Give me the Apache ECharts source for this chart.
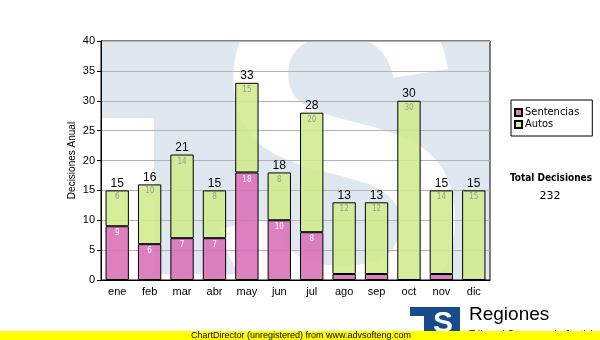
<!DOCTYPE html>
<html>
<head>
<meta charset="utf-8">
<script src="https://cdn.jsdelivr.net/npm/echarts@6/dist/echarts.min.js"></script>
<style>
  html, body { margin: 0; padding: 0; background: #fff; }
  #chart { width: 600px; height: 340px; }
</style>
</head>
<body>
<div id="chart"></div>
<script>
// Monthly decisions, split by type
const months = ['ene', 'feb', 'mar', 'abr', 'may', 'jun', 'jul', 'ago', 'sep', 'oct', 'nov', 'dic'];
const sentencias = [9, 6, 7, 7, 18, 10, 8, 1, 1, 0, 1, 0];
const autos = [6, 10, 14, 8, 15, 8, 20, 12, 12, 30, 14, 15];
const yMin = 0, yMax = 40, yStep = 5;

const totals = months.map((m, i) => sentencias[i] + autos[i]);
const grandTotal = totals.reduce((a, b) => a + b, 0);

const ARIAL = '"Liberation Sans", Arial, sans-serif';
const TAHOMA = '"DejaVu Sans Condensed", "DejaVu Sans", sans-serif';
const WATERMARK = '#dfe8f1';

const chart = echarts.init(document.getElementById('chart'), null, { renderer: 'canvas' });

chart.setOption({
  animation: false,
  backgroundColor: '#ffffff',
  grid: {
    left: 101, right: 110, top: 41, bottom: 60,
    show: true, borderColor: '#000', borderWidth: 1, backgroundColor: 'transparent'
  },
  legend: {
    data: ['Sentencias', 'Autos'],
    orient: 'vertical',
    left: 511, top: 100,
    padding: [7, 13, 6, 3],
    borderColor: '#000', borderWidth: 1,
    itemWidth: 7, itemHeight: 7, itemGap: 1,
    icon: 'rect',
    textStyle: { fontFamily: TAHOMA, fontSize: 11, color: '#000', padding: [0, 0, 0, -2] }
  },
  xAxis: {
    type: 'category',
    data: months,
    axisLine: { lineStyle: { color: '#000', width: 1 } },
    axisTick: { alignWithLabel: true, length: 3, lineStyle: { color: '#000' } },
    axisLabel: { fontFamily: ARIAL, fontSize: 11, color: '#000', margin: 6 }
  },
  yAxis: {
    type: 'value',
    min: yMin, max: yMax, interval: yStep,
    name: 'Decisiones Anual',
    nameLocation: 'middle',
    nameGap: 24,
    nameMoveOverlap: false,
    nameTextStyle: { fontFamily: ARIAL, fontSize: 10, color: '#000' },
    axisLine: { show: true, lineStyle: { color: '#000', width: 1 } },
    axisTick: { show: true, length: 4, lineStyle: { color: '#000' } },
    axisLabel: { fontFamily: ARIAL, fontSize: 11, color: '#000', margin: 6 },
    splitLine: { show: true, lineStyle: { color: '#b4b4b4', width: 1 } }
  },
  series: [
    {
      name: 'Sentencias', type: 'bar', stack: 'total', data: sentencias,
      barWidth: '72%',
      itemStyle: { color: 'rgba(218,110,182,0.88)', borderColor: '#000', borderWidth: 1 },
      label: {
        show: true, position: 'insideTop', distance: 3,
        fontFamily: TAHOMA, fontSize: 8, color: '#fff',
        formatter: p => (p.value > 1 ? String(p.value) : '')
      }
    },
    {
      name: 'Autos', type: 'bar', stack: 'total', data: autos,
      barWidth: '72%',
      itemStyle: { color: 'rgba(208,234,140,0.88)', borderColor: '#000', borderWidth: 1 },
      label: {
        show: true, position: 'insideTop', distance: 3,
        fontFamily: TAHOMA, fontSize: 8, color: '#9a9a9a',
        formatter: p => (p.value > 0 ? String(p.value) : '')
      }
    },
    {
      // zero-height cap that carries the monthly total above each stack
      name: 'Total', type: 'bar', stack: 'total', data: months.map(() => 0),
      barWidth: '72%',
      itemStyle: { color: 'transparent', borderWidth: 0 },
      label: {
        show: true, position: 'top', distance: 1,
        fontFamily: ARIAL, fontSize: 12, color: '#000',
        formatter: p => String(totals[p.dataIndex])
      },
      tooltip: { show: false }
    }
  ],
  graphic: [
    // logo watermark behind the plot
    { type: 'rect', z: -10, shape: { x: 101, y: 41, width: 389, height: 239 }, style: { fill: WATERMARK } },
    { type: 'rect', z: -9, shape: { x: 101, y: 118, width: 53, height: 162 }, style: { fill: '#fff' } },
    { type: 'rect', z: -9, shape: { x: 101, y: 274, width: 150, height: 6 }, style: { fill: '#fff' } },
    {
      type: 'text', z: -8, x: 340, y: 184, scaleX: 0.85,
      style: { text: 'S', fill: '#fff', font: 'bold 460px "Liberation Sans", Arial, sans-serif', align: 'center', verticalAlign: 'middle' }
    },
    // summary beside the legend
    {
      type: 'text', x: 551, y: 178,
      style: { text: 'Total Decisiones', fill: '#000', font: 'bold 10px "DejaVu Sans Condensed", "DejaVu Sans", sans-serif', align: 'center', verticalAlign: 'middle' }
    },
    {
      type: 'text', x: 550, y: 196,
      style: { text: String(grandTotal), fill: '#000', font: '11px "DejaVu Sans", sans-serif', align: 'center', verticalAlign: 'middle' }
    },
    // corner logo
    { type: 'rect', z: 50, shape: { x: 410, y: 307, width: 50, height: 26 }, style: { fill: '#164b8c' } },
    { type: 'rect', z: 51, shape: { x: 410, y: 316, width: 14, height: 17 }, style: { fill: '#fff' } },
    {
      type: 'text', z: 52, x: 443, y: 324,
      style: { text: 'S', fill: '#fff', font: 'bold 30px "Liberation Sans", Arial, sans-serif', align: 'center', verticalAlign: 'middle' }
    },
    {
      type: 'text', z: 50, x: 469, y: 315,
      style: { text: 'Regiones', fill: '#000', font: '19px "Liberation Sans", Arial, sans-serif', align: 'left', verticalAlign: 'middle' }
    },
    {
      type: 'text', z: 50, x: 469, y: 335,
      style: { text: 'Tribunal Supremo de Justicia', fill: '#000', font: '10px "Liberation Sans", Arial, sans-serif', align: 'left', verticalAlign: 'middle' }
    },
    // footer strip
    { type: 'rect', z: 100, shape: { x: 0, y: 331, width: 600, height: 9 }, style: { fill: '#ffff00' } },
    {
      type: 'text', z: 101, x: 191, y: 336,
      style: { text: 'ChartDirector (unregistered) from www.advsofteng.com', fill: '#000', font: '9px "Liberation Sans", Arial, sans-serif', align: 'left', verticalAlign: 'middle' }
    }
  ]
});
</script>
</body>
</html>
